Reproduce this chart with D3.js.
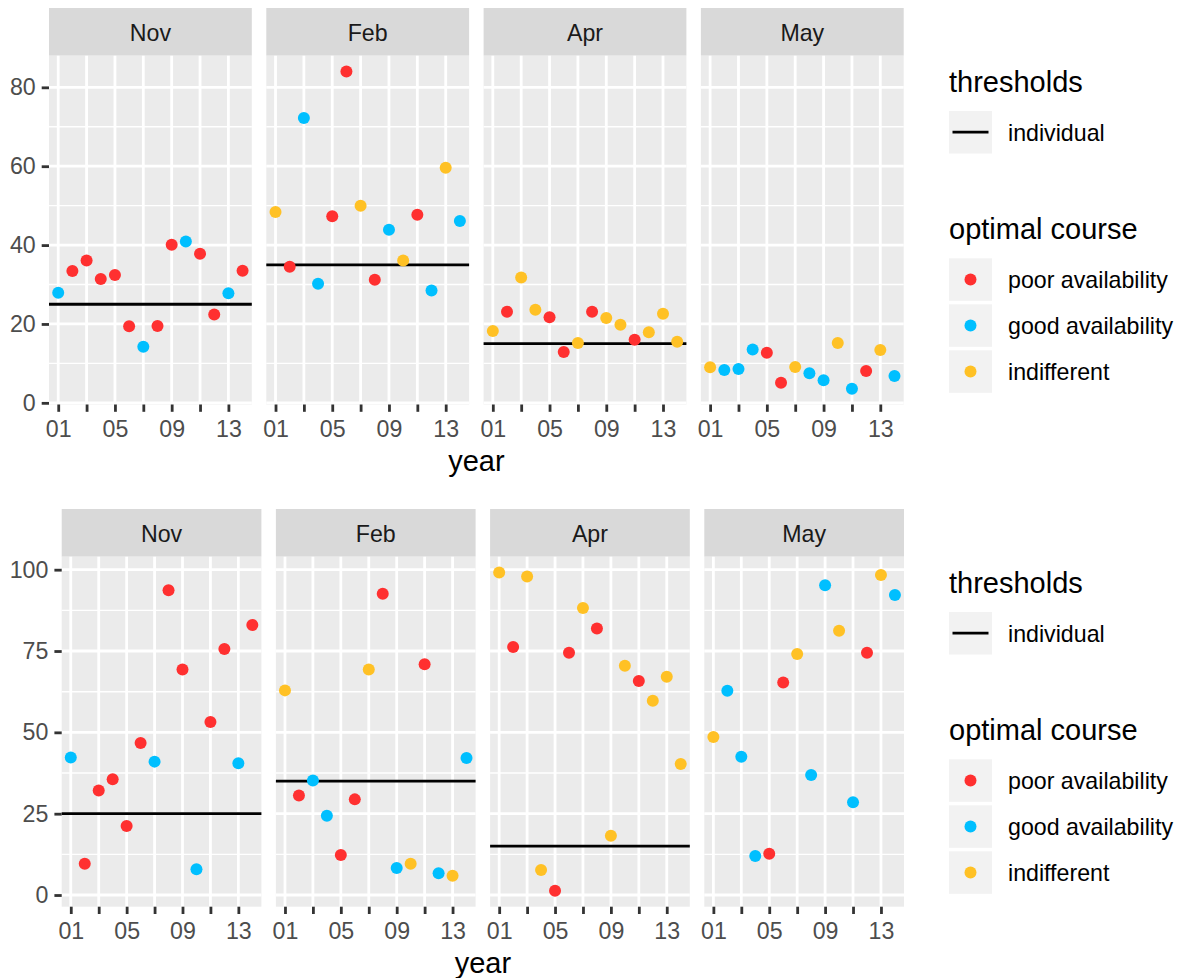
<!doctype html>
<html lang="en">
<head>
<meta charset="UTF-8">
<title>Optimal course by month and year</title>
<script src="https://cdn.jsdelivr.net/npm/d3@7"></script>
<style>
body { margin: 0; background: #fff; font-family: "Liberation Sans", Arial, sans-serif; }
svg { display: block; }
.axis path.domain { display: none; }
.axis line { stroke: #333333; stroke-width: 2.8; }
.axis text { font-family: "Liberation Sans", Arial, sans-serif; font-size: 23.2px; fill: #4d4d4d; }
</style>
</head>
<body>
<div id="plot"></div>
<script>

// ---- data ----
var years = [1, 2, 3, 4, 5, 6, 7, 8, 9, 10, 11, 12, 13, 14];
var months = ["Nov", "Feb", "Apr", "May"];
var xBreaks = [1, 3, 5, 7, 9, 11, 13];
var xLabels = ["01", "", "05", "", "09", "", "13"];

var thresholdMonths = ["Nov", "Feb", "Apr"];
var thresholdLevels = [25, 35, 15];

// p = poor availability, g = good availability, i = indifferent
var courseNov = ["g","p","p","p","p","p","g","p","p","g","p","p","g","p"];
var courseFeb = ["i","p","g","g","p","p","i","p","g","i","p","g","i","g"];
var courseApr = ["i","p","i","i","p","p","i","p","i","i","p","i","i","i"];
var courseMay = ["i","g","g","g","p","p","i","g","g","i","g","p","i","g"];

var topNov = [27.9, 33.4, 36.1, 31.4, 32.4, 19.4, 14.2, 19.5, 40.1, 40.9, 37.8, 22.4, 27.8, 33.5];
var topFeb = [48.4, 34.5, 72.2, 30.2, 47.3, 84.0, 50.0, 31.2, 43.9, 36.1, 47.7, 28.5, 59.6, 46.1];
var topApr = [18.2, 23.1, 31.8, 23.6, 21.7, 12.9, 15.2, 23.1, 21.5, 19.8, 16.0, 17.9, 22.6, 15.5];
var topMay = [9.0, 8.3, 8.6, 13.5, 12.7, 5.1, 9.1, 7.5, 5.7, 15.2, 3.6, 8.1, 13.4, 6.8];
var topTicks = [0, 20, 40, 60, 80];

var botNov = [42.3, 9.6, 32.1, 35.6, 21.2, 46.7, 41.0, 93.7, 69.3, 7.9, 53.2, 75.6, 40.5, 83.0];
var botFeb = [62.9, 30.6, 35.2, 24.4, 12.3, 29.4, 69.3, 92.6, 8.3, 9.6, 70.9, 6.7, 5.9, 42.1];
var botApr = [99.1, 76.2, 97.9, 7.7, 1.3, 74.5, 88.2, 81.9, 18.2, 70.5, 65.8, 59.7, 67.1, 40.3];
var botMay = [48.6, 62.8, 42.5, 12.0, 12.7, 65.3, 74.1, 36.9, 95.2, 81.2, 28.5, 74.5, 98.4, 92.2];
var botTicks = [0, 25, 50, 75, 100];

var courseKeys = ["p", "g", "i"];
var courseNames = ["poor availability", "good availability", "indifferent"];
var courseColors = ["#ff3030", "#00bfff", "#ffc125"];

// ---- layout ----
var width = 1186;
var height = 978;
var stripH = 47.7;
var gap = 14.5;
var tickLen = 7.3;
var r = 6;

var svg = d3.select("#plot").append("svg")
	.attr("width", width)
	.attr("height", height);

var color = d3.scaleOrdinal().domain(courseKeys).range(courseColors);
var courses = [courseNov, courseFeb, courseApr, courseMay];

var plots = [
	{ top: 8, left: 49, right: 903.7, bottom: 404.5, series: [topNov, topFeb, topApr, topMay], ticks: topTicks },
	{ top: 509, left: 61.7, right: 904, bottom: 906.7, series: [botNov, botFeb, botApr, botMay], ticks: botTicks }
];

plots.forEach(function (p) {
	var all = d3.merge(p.series);
	var lo = d3.min(all), hi = d3.max(all);
	var pad = (hi - lo) * 0.05;
	var panelTop = p.top + stripH;
	var panelW = (p.right - p.left - 3 * gap) / 4;

	var yScale = d3.scaleLinear().domain([lo - pad, hi + pad]).range([p.bottom, panelTop]);
	var minor = d3.pairs(p.ticks).map(function (t) { return (t[0] + t[1]) / 2; });
	minor.push(p.ticks[p.ticks.length - 1] + (p.ticks[1] - p.ticks[0]) / 2);
	minor = minor.filter(function (v) { return v < hi + pad; });

	months.forEach(function (m, mi) {
		var x0 = p.left + mi * (panelW + gap);
		var xScale = d3.scaleLinear().domain([0.35, 14.65]).range([x0, x0 + panelW]);
		var g = svg.append("g");

		// strip
		g.append("rect")
		.attr("x", x0).attr("y", p.top)
		.attr("width", panelW).attr("height", stripH)
		.style("fill", "#d9d9d9");
		g.append("text")
		.attr("x", x0 + panelW / 2).attr("y", p.top + stripH / 2)
		.attr("dy", "0.38em")
		.attr("text-anchor", "middle")
		.style("font-size", "23.2px")
		.style("fill", "#1a1a1a")
		.text(m);

		// panel
		g.append("rect")
		.attr("x", x0).attr("y", panelTop)
		.attr("width", panelW).attr("height", p.bottom - panelTop)
		.style("fill", "#ebebeb");

		g.selectAll("line.minor").data(minor).enter().append("line")
		.attr("x1", x0).attr("x2", x0 + panelW)
		.attr("y1", function (d) { return yScale(d); })
		.attr("y2", function (d) { return yScale(d); })
		.style("stroke", "#fff").style("stroke-width", 1.4);

		g.selectAll("line.hmajor").data(p.ticks).enter().append("line")
		.attr("x1", x0).attr("x2", x0 + panelW)
		.attr("y1", function (d) { return yScale(d); })
		.attr("y2", function (d) { return yScale(d); })
		.style("stroke", "#fff").style("stroke-width", 2.8);

		g.selectAll("line.vmajor").data(xBreaks).enter().append("line")
		.attr("y1", panelTop).attr("y2", p.bottom)
		.attr("x1", function (d) { return xScale(d); })
		.attr("x2", function (d) { return xScale(d); })
		.style("stroke", "#fff").style("stroke-width", 2.8);

		// threshold
		var ti = thresholdMonths.indexOf(m);
		if (ti >= 0) {
			g.append("line")
			.attr("x1", x0).attr("x2", x0 + panelW)
			.attr("y1", yScale(thresholdLevels[ti]))
			.attr("y2", yScale(thresholdLevels[ti]))
			.style("stroke", "#000").style("stroke-width", 2.8);
		}

		// points
		g.selectAll("circle").data(years).enter().append("circle")
		.attr("cx", function (d) { return xScale(d); })
		.attr("cy", function (d, i) { return yScale(p.series[mi][i]); })
		.attr("r", r)
		.style("fill", function (d, i) { return color(courses[mi][i]); });

		// x axis
		var xAxis = d3.axisBottom(xScale)
		.tickValues(xBreaks)
		.tickFormat(function (d, i) { return xLabels[i]; })
		.tickSizeInner(tickLen).tickSizeOuter(0).tickPadding(8.5);
		svg.append("g")
		.attr("class", "axis")
		.attr("transform", "translate(0," + p.bottom + ")")
		.call(xAxis);

		if (mi === 0) {
			var yAxis = d3.axisLeft(yScale)
			.tickValues(p.ticks)
			.tickSizeInner(tickLen).tickSizeOuter(0).tickPadding(6);
			svg.append("g")
			.attr("class", "axis")
			.attr("transform", "translate(" + x0 + ",0)")
			.call(yAxis);
		}
	});

	// axis title
	svg.append("text")
	.attr("x", (p.left + p.right) / 2)
	.attr("y", p.bottom + 66)
	.attr("text-anchor", "middle")
	.style("font-size", "29px")
	.style("fill", "#000")
	.text("year");

	// legend
	var lx = 949;
	var lg = svg.append("g");
	lg.append("text")
	.attr("x", lx).attr("y", p.top + 84)
	.style("font-size", "29px")
	.text("thresholds");
	lg.append("rect")
	.attr("x", lx).attr("y", p.top + 103)
	.attr("width", 43).attr("height", 42.5)
	.style("fill", "#f2f2f2");
	lg.append("line")
	.attr("x1", lx + 3.5).attr("x2", lx + 39.5)
	.attr("y1", p.top + 124.2).attr("y2", p.top + 124.2)
	.style("stroke", "#000").style("stroke-width", 2.8);
	lg.append("text")
	.attr("x", lx + 59).attr("y", p.top + 124.2)
	.attr("dy", "0.38em")
	.style("font-size", "23.2px")
	.text("individual");

	lg.append("text")
	.attr("x", lx).attr("y", p.top + 230.8)
	.style("font-size", "29px")
	.text("optimal course");

	var keys = lg.selectAll("g.key").data(courseKeys).enter().append("g")
	.attr("transform", function (d, i) { return "translate(" + lx + "," + (p.top + 250.3 + i * 46) + ")"; });
	keys.append("rect")
	.attr("width", 43).attr("height", 42.5)
	.style("fill", "#f2f2f2");
	keys.append("circle")
	.attr("cx", 21.5).attr("cy", 21.2).attr("r", r)
	.style("fill", function (d) { return color(d); });
	keys.append("text")
	.attr("x", 59).attr("y", 21.2)
	.attr("dy", "0.38em")
	.style("font-size", "23.2px")
	.text(function (d, i) { return courseNames[i]; });
});

</script>
</body>
</html>
